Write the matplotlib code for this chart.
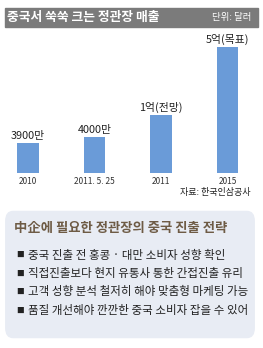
import matplotlib.pyplot as plt
from matplotlib.patches import Rectangle, FancyBboxPatch

plt.rcParams['font.family'] = ['Noto Sans CJK KR', 'DejaVu Sans']

# 막대 데이터 (그림에서 읽은 막대 높이, 원본은 비례 축척이 아님)
years = ['2010', '2011. 5. 25', '2011', '2015']
bar_heights = [30, 36, 58, 126]
value_labels = ['3900만', '4000만', '1억(전망)', '5억(목표)']

title = '중국서 쑥쑥 크는 정관장 매출'
unit = '단위: 달러'
source = '자료: 한국인삼공사'
box_title = '中企에 필요한 정관장의 중국 진출 전략'
tips = ['중국 진출 전 홍콩 · 대만 소비자 성향 확인',
        '직접진출보다 현지 유통사 통한 간접진출 유리',
        '고객 성향 분석 철저히 해야 맞춤형 마케팅 가능',
        '품질 개선해야 깐깐한 중국 소비자 잡을 수 있어']

W, H = 263, 348
fig = plt.figure(figsize=(W / 100, H / 100), dpi=100)


def fx(px):
    return px / W


def fy(py):
    return 1 - py / H


# 제목 바
fig.patches.append(Rectangle((fx(5), fy(27)), fx(253), 19 / H,
                             transform=fig.transFigure, color='#7b7b7b', zorder=0))
fig.text(fx(7), fy(17.5), title, color='white', fontsize=9.2, fontweight='bold',
         va='center', ha='left')
fig.text(fx(251), fy(17.5), unit, color='white', fontsize=6.8, va='center', ha='right')

# 막대 그래프
ax = fig.add_axes([fx(5), fy(173), fx(253), (173 - 30) / H])
x = range(len(years))
bars = ax.bar(x, bar_heights, width=0.33, color='#6a9bd8')
ax.set_xlim(-0.346, 3.459)
ax.set_ylim(0, 143)
for b, lab in zip(bars, value_labels):
    ax.annotate(lab, (b.get_x() + b.get_width() / 2, b.get_height()),
                xytext=(0, 1.5), textcoords='offset points',
                ha='center', va='bottom', fontsize=7.8, color='#222222')
ax.set_xticks(list(x))
ax.set_xticklabels(years, fontsize=6, color='#333333')
ax.tick_params(axis='x', length=0, pad=3)
ax.set_yticks([])
for s in ax.spines.values():
    s.set_visible(False)

fig.text(fx(251), fy(192), source, fontsize=6.5, color='#222222', ha='right', va='center')

# 전략 박스
fig.patches.append(FancyBboxPatch((fx(9), fy(333)), fx(242), 117 / H,
                                  boxstyle='round,pad=0.015,rounding_size=0.03',
                                  transform=fig.transFigure, facecolor='#e8ecf4',
                                  edgecolor='none', zorder=0))
fig.text(fx(14), fy(228), box_title, fontsize=9.6, fontweight='bold',
         color='#6e5b45', ha='left', va='center')
for i, t in enumerate(tips):
    yy = fy(255 + i * 18.5)
    fig.text(fx(16), yy, '■', fontsize=5.5, color='#222222', ha='left', va='center')
    fig.text(fx(28), yy, t, fontsize=8.3, color='#222222', ha='left', va='center')

fig.savefig('out.png', dpi=100)
